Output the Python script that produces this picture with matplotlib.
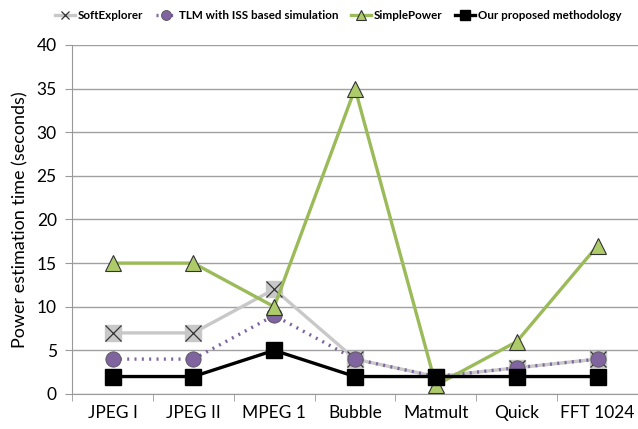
import matplotlib
matplotlib.use("Agg")
import matplotlib.pyplot as plt
from matplotlib.ticker import MultipleLocator, FixedLocator

categories = ["JPEG I", "JPEG II", "MPEG 1", "Bubble", "Matmult", "Quick", "FFT 1024"]
softexplorer = [7, 7, 12, 4, 2, 3, 4]
tlm_iss = [4, 4, 9, 4, 2, 3, 4]
simplepower = [15, 15, 10, 35, 1, 6, 17]
proposed = [2, 2, 5, 2, 2, 2, 2]

plt.rcParams['font.family'] = ['Lato', 'DejaVu Sans']

fig = plt.figure(figsize=(6.38, 4.29), dpi=100)
ax = fig.add_axes([0.113, 0.0816, 0.887, 0.8136])
x = list(range(len(categories)))

gray = "#C8C8C8"
green = "#9BBB59"
green_fill = "#AECB6A"
purple = "#7F64A0"

ax.plot(x, softexplorer, color=gray, lw=2.4, marker='s', ms=11, mfc=gray, mec=gray, zorder=3)
ax.plot(x, softexplorer, color=gray, lw=0, marker='x', ms=11, mec='#333333', mew=0.9, zorder=4)
l1, = ax.plot([], [], color=gray, lw=2.4, marker='x', ms=8, mec='#333333', mew=0.9, label="SoftExplorer")
ax.plot(x, tlm_iss, color=purple, lw=2.4, ls=(0, (0.6, 1.6)), marker='o', ms=11, mfc=purple, mec='#555555', mew=0.6, zorder=5, label="TLM with ISS based simulation")
ax.plot(x, simplepower, color=green, lw=2.4, marker='^', ms=12, mfc=green_fill, mec='#333333', mew=0.8, zorder=6, label="SimplePower")
ax.plot(x, proposed, color='black', lw=2.4, marker='s', ms=11, mfc='black', mec='black', zorder=7, label="Our proposed methodology")

ax.set_xlim(-0.5, 6.5)
ax.set_ylim(0, 40)
ax.yaxis.set_major_locator(MultipleLocator(5))
ax.set_xticks(x)
ax.set_xticklabels(categories, fontsize=12.5)
ax.xaxis.set_minor_locator(FixedLocator([i - 0.5 for i in range(len(categories) + 1)]))
ax.tick_params(axis='x', which='major', length=0, pad=8)
ax.tick_params(axis='x', which='minor', length=5, color='#999999')
ax.tick_params(axis='y', length=5, color='#999999', labelsize=12.5, pad=6)
ax.grid(axis='y', color='#A0A0A0', lw=1)
ax.set_axisbelow(True)
for s in ['top', 'right']:
    ax.spines[s].set_visible(False)
ax.spines['left'].set_color('#999999')
ax.spines['bottom'].set_color('#999999')
ax.set_ylabel("Power estimation time (seconds)", fontsize=13, labelpad=6)

handles, labels = ax.get_legend_handles_labels()
fig.legend(handles, labels, loc='upper center', bbox_to_anchor=(0.53, 1.0), ncol=4, frameon=False,
           prop={'weight': 'bold', 'size': 8.4}, handlelength=1.7, columnspacing=1.1, handletextpad=0.25,
           markerscale=0.65)

fig.savefig("out.png", dpi=100)
